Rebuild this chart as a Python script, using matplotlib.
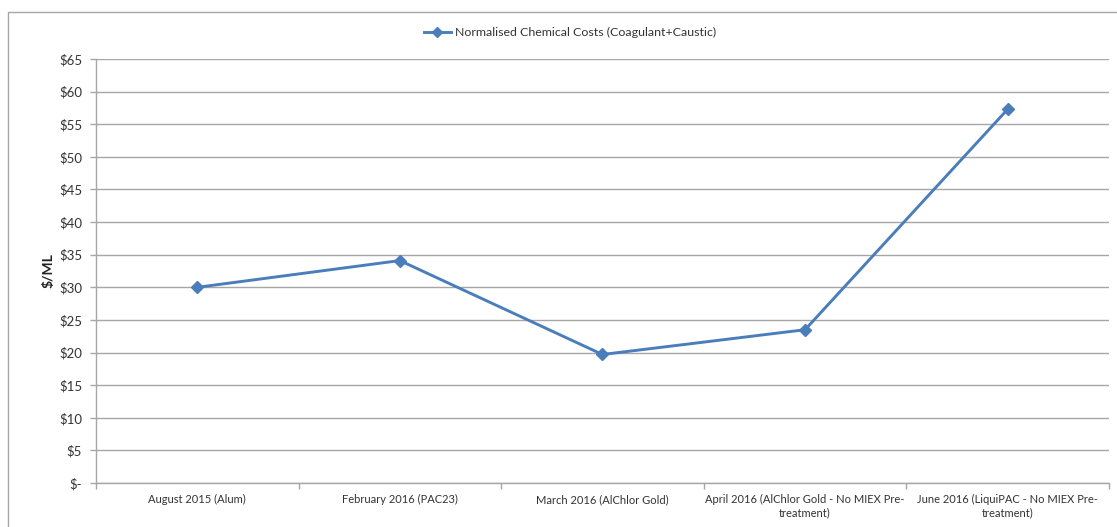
import matplotlib
matplotlib.use("Agg")
import matplotlib.pyplot as plt
from matplotlib.patches import Rectangle
from matplotlib.lines import Line2D

categories = [
    "August 2015 (Alum)",
    "February 2016 (PAC23)",
    "March 2016 (AlChlor Gold)",
    "April 2016 (AlChlor Gold - No MIEX Pre-\ntreatment)",
    "June 2016 (LiquiPAC - No MIEX Pre-\ntreatment)",
]
costs = [30.0, 34.1, 19.7, 23.5, 57.3]
series_name = "Normalised Chemical Costs (Coagulant+Caustic)"
y_ticks = list(range(0, 70, 5))
y_labels = ["$-"] + [f"${v}" for v in y_ticks[1:]]

plt.rcParams["font.family"] = ["Lato", "DejaVu Sans"]

fig = plt.figure(figsize=(11.17, 5.27), dpi=100)
ax = fig.add_axes([0.0859, 0.0835, 0.9069, 0.8045])

line_color = "#4a7ebb"
grid_color = "#a6a6a6"

x = list(range(len(categories)))
ax.plot(x, costs, color=line_color, linewidth=2.1, marker="D",
        markersize=6, markerfacecolor=line_color, markeredgecolor=line_color,
        zorder=3)

ax.set_xlim(-0.5, len(categories) - 0.5)
ax.set_ylim(0, 65)
ax.set_yticks(y_ticks)
ax.set_yticklabels(y_labels, fontsize=9.5, color="#333333")
ax.yaxis.grid(True, color=grid_color, linewidth=1)
ax.set_axisbelow(True)

ax.set_xticks(x)
ax.set_xticklabels(categories, fontsize=8, color="#333333")
ax.tick_params(axis="x", which="major", length=0, pad=8)
ax.set_xticks([i - 0.5 for i in range(len(categories) + 1)], minor=True)
ax.tick_params(axis="x", which="minor", length=4, color=grid_color, width=1)
ax.tick_params(axis="y", length=4, color=grid_color, width=1, pad=6)

for side in ("top", "right"):
    ax.spines[side].set_visible(False)
for side in ("left", "bottom"):
    ax.spines[side].set_color(grid_color)
    ax.spines[side].set_linewidth(1)

ax.set_ylabel("$/ML", fontsize=10, fontweight="bold", color="#222222", labelpad=3)

handle = Line2D([], [], color=line_color, linewidth=2.1, marker="D",
                markersize=5, markerfacecolor=line_color, markeredgecolor=line_color)
fig.legend([handle], [series_name], loc="center", bbox_to_anchor=(0.51, 0.938),
           frameon=False, fontsize=8.9, handlelength=2.2, handletextpad=0.3,
           labelcolor="#333333")

# Chart frame
fig.patches.append(Rectangle((8 / 1117, -0.05), 1.2, 1 - 12 / 527 + 0.05,
                             transform=fig.transFigure, fill=False,
                             edgecolor="#a6a6a6", linewidth=1))

fig.savefig("out.png", dpi=100, facecolor="white")
